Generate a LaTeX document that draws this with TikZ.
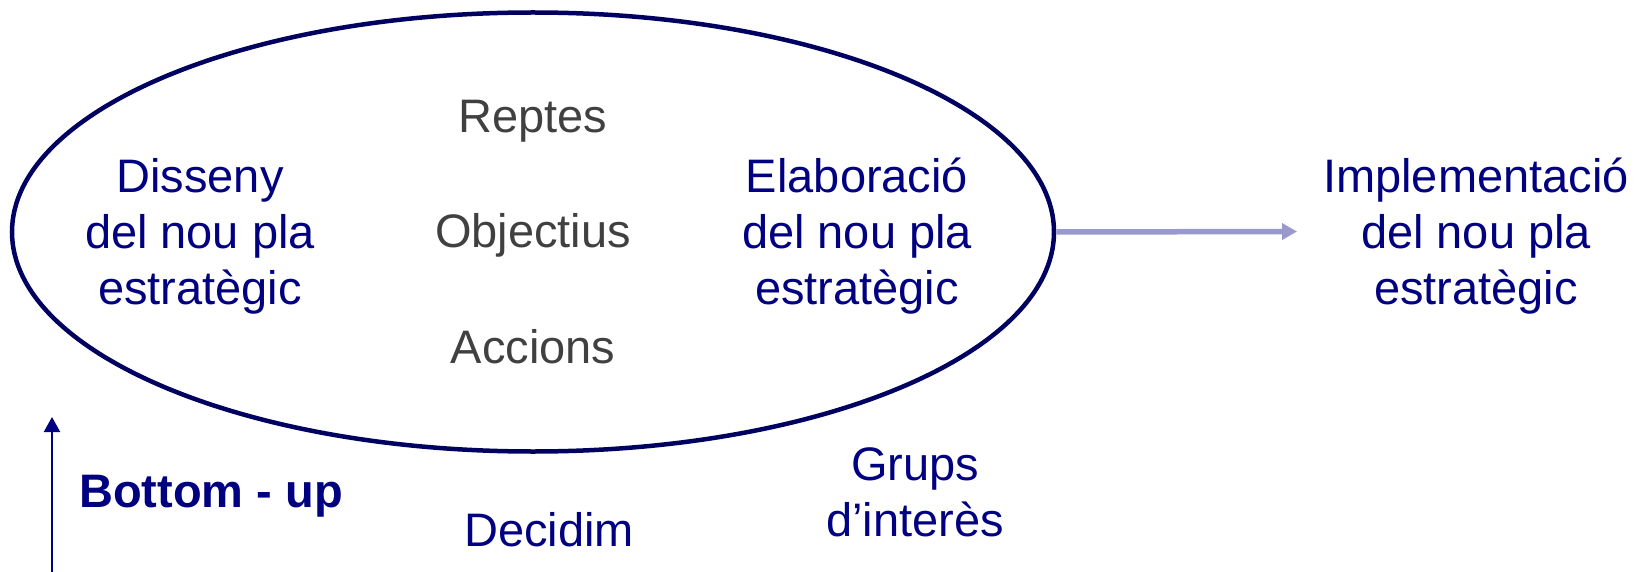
\documentclass[tikz,border=0pt]{standalone}
\usepackage{fontspec}
\setmainfont{Liberation Sans}
\usetikzlibrary{shapes.geometric,arrows.meta}
\definecolor{navytext}{HTML}{000080}
\definecolor{ellcol}{HTML}{000060}
\definecolor{graytext}{HTML}{404040}
\definecolor{lightarrow}{HTML}{9999CC}
\tikzset{
  bluetxt/.style={text=navytext, align=center, inner sep=0pt, font=\fontsize{47}{56}\selectfont},
  graytxt/.style={text=graytext, align=center, inner sep=0pt, font=\fontsize{47}{56}\selectfont},
  bigell/.style={draw=ellcol, ellipse, line width=4.5pt, minimum width=1042pt, minimum height=439pt, inner sep=0pt},
}
\begin{document}
\begin{tikzpicture}[x=1pt,y=-1pt]
\useasboundingbox (0,0) rectangle (1635,572);
\node[bigell] (ell) at (533,232) {};
\node[graytxt] (reptes) at (533,121) {Reptes};
\node[graytxt] (obj) at (533,235) {Objectius};
\node[graytxt] (acc) at (533,347) {Accions};
\node[bluetxt] (dis) at (200,236.5) {Disseny\\del nou pla\\estratègic};
\node[bluetxt] (ela) at (857,236.5) {Elaboració\\del nou pla\\estratègic};
\node[bluetxt] (imp) at (1476,236.5) {Implementació\\del nou pla\\estratègic};
\node[bluetxt] (grups) at (915,492) {Grups\\d’interès};
\node[bluetxt] (dec) at (549,530) {Decidim};
\node[bluetxt, font=\fontsize{47}{56}\selectfont\bfseries, anchor=west] (bu) at (79,496) {Bottom - up};
\coordinate (arrend) at (1297,231.5);
\coordinate (bu0) at (52,572);
\coordinate (bu1) at (52,417);
\draw[lightarrow, line width=5.5pt, -{Triangle[length=15pt,width=16pt]}] (ell.east) -- (arrend);
\draw[navytext, line width=2.2pt, -{Triangle[length=15pt,width=16pt]}] (bu0) -- (bu1);
\end{tikzpicture}
\end{document}
